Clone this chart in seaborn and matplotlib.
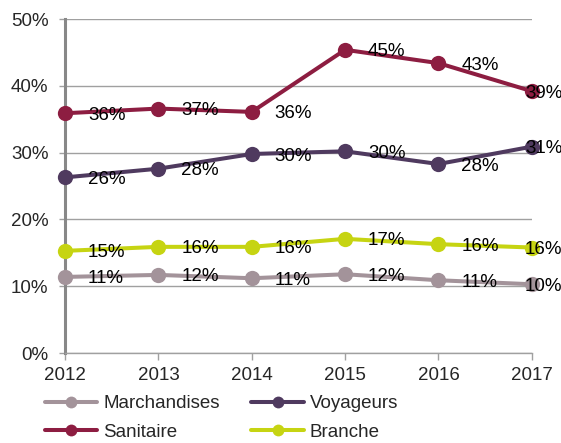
import matplotlib

matplotlib.use("Agg")
import matplotlib.pyplot as plt
import pandas as pd
import seaborn as sns
from matplotlib.lines import Line2D
from matplotlib.ticker import PercentFormatter

years = [2012, 2013, 2014, 2015, 2016, 2017]
marchandises = [11.4, 11.7, 11.2, 11.8, 10.9, 10.3]
voyageurs = [26.3, 27.6, 29.8, 30.2, 28.3, 30.9]
sanitaire = [35.9, 36.6, 36.1, 45.4, 43.4, 39.2]
branche = [15.3, 15.9, 15.9, 17.1, 16.3, 15.8]

series = {
    "Marchandises": marchandises,
    "Voyageurs": voyageurs,
    "Sanitaire": sanitaire,
    "Branche": branche,
}
colors = {
    "Marchandises": "#A3939A",
    "Voyageurs": "#4F3A5F",
    "Sanitaire": "#8D1D41",
    "Branche": "#C6D412",
}

df = pd.DataFrame(
    [(name, y, v) for name, vals in series.items() for y, v in zip(years, vals)],
    columns=["serie", "annee", "valeur"],
)

sns.set_theme(style="white")
plt.rcParams["font.family"] = ["Liberation Sans", "DejaVu Sans"]

fig = plt.figure(figsize=(5.61, 4.43), dpi=100)
ax = fig.add_axes([0.116, 0.203, 0.832, 0.754])

for name in ["Marchandises", "Branche", "Voyageurs", "Sanitaire"]:
    sub = df[df["serie"] == name]
    sns.lineplot(
        data=sub, x="annee", y="valeur", ax=ax, color=colors[name],
        marker="o", markersize=11, markeredgewidth=0, linewidth=2.9,
        legend=False, clip_on=False, zorder=3,
    )
    for y, v in zip(sub["annee"], sub["valeur"]):
        dx = -5 if y == years[-1] else 16.5
        ax.annotate(
            f"{round(v)}%", (y, v), xytext=(dx, -1.5), textcoords="offset points",
            ha="left", va="center", fontsize=13.5, color="black", zorder=5,
            annotation_clip=False,
        )

ax.set_xlim(years[0], years[-1])
ax.set_ylim(0, 50)
ax.set_xticks(years)
ax.set_yticks(range(0, 51, 10))
ax.yaxis.set_major_formatter(PercentFormatter(decimals=0))
ax.set_xlabel("")
ax.set_ylabel("")
ax.grid(axis="y", color="#A0A0A0", linewidth=1)
ax.set_axisbelow(True)
for side in ["top", "right"]:
    ax.spines[side].set_visible(False)
ax.spines["left"].set_color("#888888")
ax.spines["left"].set_linewidth(2.2)
ax.spines["bottom"].set_color("#A0A0A0")
ax.spines["bottom"].set_linewidth(1)
ax.tick_params(axis="y", length=4, width=1, color="#A0A0A0", pad=8, labelsize=13.5, left=True)
ax.tick_params(axis="x", length=5, width=1, color="#A0A0A0", pad=5, labelsize=13.5, bottom=True)

order = ["Marchandises", "Sanitaire", "Voyageurs", "Branche"]
handles = [
    Line2D([], [], color=colors[n], marker="o", markersize=8.5, markeredgewidth=0, linewidth=2.9)
    for n in order
]
fig.legend(
    handles, order, loc="upper left", bbox_to_anchor=(0.08, 0.108), ncol=2,
    frameon=False, fontsize=13.5, handlelength=2.8, handletextpad=0.3,
    columnspacing=1.7, labelspacing=0.62, borderpad=0, borderaxespad=0,
)

fig.savefig("out.png", dpi=100)
